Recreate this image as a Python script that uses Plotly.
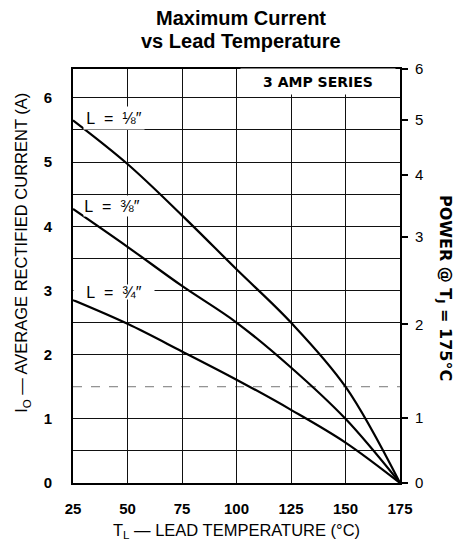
import plotly.graph_objects as go

# ---- data ----
temps = [25, 50, 75, 100, 125, 150, 175]
current_l_1_8 = [5.65, 4.97, 4.17, 3.33, 2.50, 1.50, 0.0]
current_l_3_8 = [4.27, 3.68, 3.07, 2.50, 1.80, 1.00, 0.0]
current_l_3_4 = [2.85, 2.48, 2.05, 1.61, 1.14, 0.63, 0.0]
curve_labels = ["L\u00a0\u00a0=\u00a0\u00a0\u215b\u2033",
                "L\u00a0\u00a0=\u00a0\u00a0\u215c\u2033",
                "L\u00a0\u00a0=\u00a0\u00a0\u00be\u2033"]
label_pos_x = [44.0, 42.9, 43.8]
label_pos_y = [5.69, 4.31, 2.97]

x_ticks = [25, 50, 75, 100, 125, 150, 175]
current_ticks = [0, 1, 2, 3, 4, 5, 6]
current_grid = [0, 0.5, 1, 2, 2.5, 3, 3.5, 4, 4.5, 5, 5.5, 6]
faint_grid = 1.5
power_ticks = ["0", "1", "2", "3", "4", "5", "6"]
power_at_current = [0, 1.02, 2.47, 3.84, 4.80, 5.66, 6.449]
y_top = 6.45

FONT = "Liberation Sans, Arial, sans-serif"
WIDE = "DejaVu Sans, sans-serif"

fig = go.Figure()
for ys in (current_l_1_8, current_l_3_8, current_l_3_4):
    fig.add_trace(go.Scatter(x=temps, y=ys, mode="lines",
                             line=dict(color="black", width=2.2, shape="spline", smoothing=1.0),
                             showlegend=False, hoverinfo="skip"))
# invisible trace to activate the right-hand power axis
fig.add_trace(go.Scatter(x=[None], y=[None], yaxis="y2", showlegend=False, hoverinfo="skip"))

annotations = []
for txt, lx, ly, w, h in zip(curve_labels, label_pos_x, label_pos_y, [60, 56, 80], [22, 20, 14]):
    annotations.append(dict(x=lx, y=ly, xref="x", yref="y", text=txt, showarrow=False,
                            font=dict(family=FONT, size=16, color="black"),
                            bgcolor="white", width=w, height=h, borderpad=0))
annotations.append(dict(x=137.4, y=6.25, xref="x", yref="y", text="<b>3 AMP SERIES</b>",
                        showarrow=False, font=dict(family=WIDE, size=14, color="black"),
                        bgcolor="white", width=154, height=25, borderpad=0))
# titles
annotations.append(dict(x=0.514, y=1, xref="paper", yref="paper", yshift=51,
                        xanchor="center", yanchor="middle",
                        text="<b>Maximum Current</b>", showarrow=False,
                        font=dict(family=FONT, size=20, color="black")))
annotations.append(dict(x=0.514, y=1, xref="paper", yref="paper", yshift=28,
                        xanchor="center", yanchor="middle",
                        text="<b>vs Lead Temperature</b>", showarrow=False,
                        font=dict(family=FONT, size=20, color="black")))
annotations.append(dict(x=0, y=0.556, xref="paper", yref="paper", xshift=-51,
                        xanchor="center", yanchor="middle",
                        text="I<sub>O</sub> \u2014 AVERAGE RECTIFIED CURRENT (A)", textangle=-90,
                        showarrow=False, font=dict(family=FONT, size=16.5, color="black")))
annotations.append(dict(x=1, y=0.471, xref="paper", yref="paper", xshift=45,
                        xanchor="center", yanchor="middle",
                        text="<b>POWER @ T<sub>J</sub> = 175\u00b0C</b>", textangle=90,
                        showarrow=False, font=dict(family=WIDE, size=16, color="black")))
annotations.append(dict(x=0.5, y=0, xref="paper", yref="paper", yshift=-48,
                        xanchor="center", yanchor="middle",
                        text="T<sub>L</sub> \u2014 LEAD TEMPERATURE (\u00b0C)",
                        showarrow=False, font=dict(family=FONT, size=16.5, color="black")))

fig.update_layout(
    width=461, height=544,
    margin=dict(l=73, r=61, t=69, b=61),
    paper_bgcolor="white", plot_bgcolor="white",
    annotations=annotations,
    shapes=[dict(type="line", xref="x", yref="y", x0=temps[0], x1=temps[-1],
                 y0=faint_grid, y1=faint_grid, layer="below",
                 line=dict(color="#777", width=1, dash="dash"))],
    xaxis=dict(range=[25, 175], tickvals=x_ticks, ticktext=[str(v) for v in x_ticks],
               showgrid=True, gridcolor="#111", gridwidth=1.3,
               showline=True, mirror=True, linecolor="black", linewidth=1.6,
               ticks="", ticklabelstandoff=11, zeroline=False,
               tickfont=dict(family=FONT, size=15, color="black", weight="bold")),
    yaxis=dict(range=[0, y_top], tickvals=current_grid,
               ticktext=[str(int(v)) if v in current_ticks else "" for v in current_grid],
               showgrid=True, gridcolor="#111", gridwidth=1.3,
               showline=True, mirror=True, linecolor="black", linewidth=1.6,
               ticks="", ticklabelstandoff=16, zeroline=False,
               tickfont=dict(family=FONT, size=15, color="black", weight="bold")),
    yaxis2=dict(range=[0, y_top], overlaying="y", side="right", anchor="x",
                tickvals=power_at_current, ticktext=power_ticks,
                showgrid=False, zeroline=False, showline=False,
                ticks="outside", ticklen=7, tickwidth=1.5, tickcolor="black",
                ticklabelstandoff=4,
                tickfont=dict(family=FONT, size=15, color="black")),
)

fig.write_html("out.html", config={"displayModeBar": False},
               post_script="document.body.style.margin='0';")
